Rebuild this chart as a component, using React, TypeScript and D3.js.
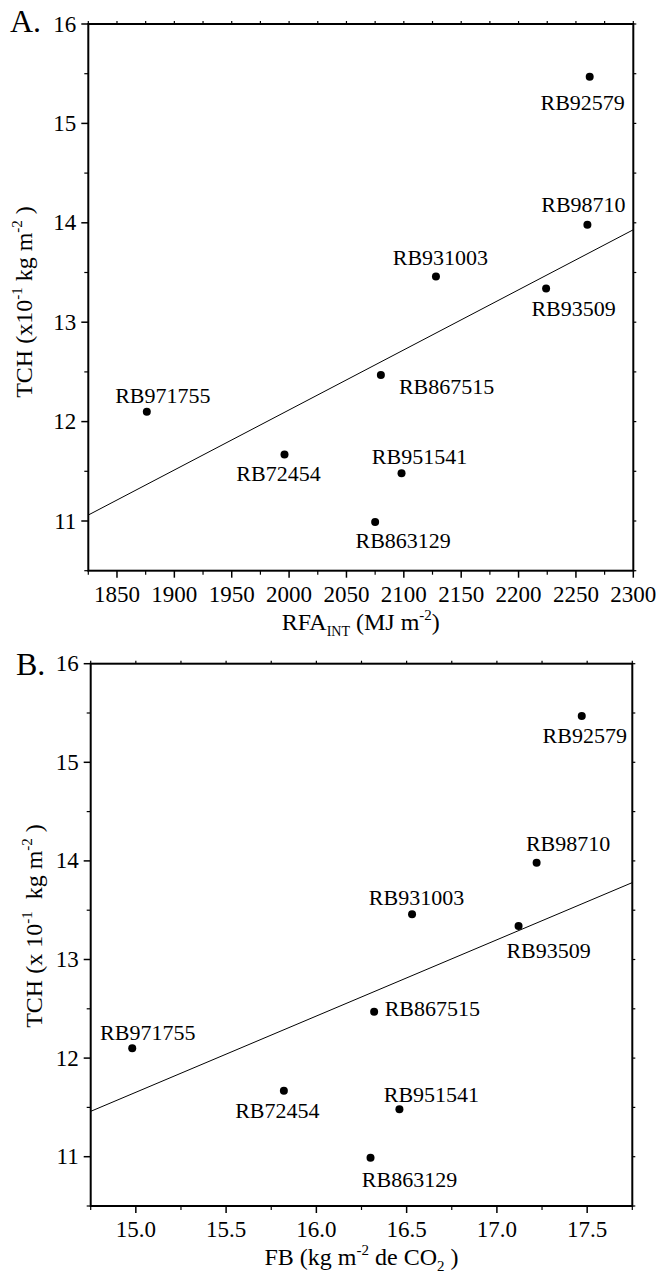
import React from "react";
import * as d3 from "d3";

// genotypes and their values
const genotypes = ["RB92579", "RB98710", "RB931003", "RB93509", "RB971755", "RB72454", "RB867515", "RB951541", "RB863129"];
const tch = [15.47, 13.98, 13.46, 13.34, 12.1, 11.67, 12.47, 11.48, 10.99];
const rfaInt = [2262, 2260, 2128, 2224, 1876, 1996, 2080, 2098, 2075];
const fb = [17.47, 17.22, 16.53, 17.12, 14.98, 15.82, 16.32, 16.46, 16.3];

// fitted lines (end points)
const fitAx = [1825, 2300];
const fitAy = [11.06, 13.93];
const fitBx = [14.75, 17.75];
const fitBy = [11.46, 13.78];

const yTicks = [11, 12, 13, 14, 15, 16];
const yMinor = [10.5, 11.5, 12.5, 13.5, 14.5, 15.5];
const xTicksA = [1850, 1900, 1950, 2000, 2050, 2100, 2150, 2200, 2250, 2300];
const xMinorA = [1825, 1875, 1925, 1975, 2025, 2075, 2125, 2175, 2225, 2275];
const xTicksB = [15.0, 15.5, 16.0, 16.5, 17.0, 17.5];
const xMinorB = [14.75, 15.25, 15.75, 16.25, 16.75, 17.25, 17.75];

// label placement relative to each point: [dx, dy, anchor]
const labelPosA: [number, number, string][] = [
  [-7, 33, "middle"], [-4, -12.5, "middle"], [4.5, -11.5, "middle"], [27.5, 27.5, "middle"],
  [16, -9, "middle"], [-6, 27, "middle"], [18, 19, "start"], [18, -9, "middle"], [28, 26.5, "middle"],
];
const labelPosB: [number, number, string][] = [
  [3, 27, "middle"], [31.5, -11.5, "middle"], [4.5, -9.5, "middle"], [30, 32, "middle"],
  [15.5, -8.5, "middle"], [-6.5, 27.5, "middle"], [10.5, 4.5, "start"], [32, -7.5, "middle"], [39, 29.5, "middle"],
];

const FONT = "'Liberation Serif', 'Times New Roman', serif";

type PanelProps = {
  letter: string;
  letterPos: [number, number];
  box: { left: number; right: number; top: number; bottom: number };
  xDomain: [number, number];
  xVals: number[];
  xTicks: number[];
  xMinor: number[];
  xFmt: (n: number) => string;
  fitX: number[];
  fitY: number[];
  labelPos: [number, number, string][];
  yTitle: React.ReactNode;
  yTitlePos: [number, number];
  xTitle: React.ReactNode;
};

const Panel = (p: PanelProps) => {
  const { left, right, top, bottom } = p.box;
  const x = d3.scaleLinear().domain(p.xDomain).range([left, right]);
  const y = d3.scaleLinear().domain([10.5, 16]).range([bottom, top]);
  const line = d3.line<number>()
    .x((_, i) => x(p.fitX[i]))
    .y((d) => y(d));
  const midX = (left + right) / 2;

  return (
    <g fontFamily={FONT} fill="#000">
      <text x={p.letterPos[0]} y={p.letterPos[1]} fontSize={32}>{p.letter}</text>

      {/* frame */}
      <rect x={left} y={top} width={right - left} height={bottom - top} fill="none" stroke="#000" strokeWidth={2} />

      {/* y ticks */}
      {yTicks.map((t) => (
        <g key={"y" + t}>
          <line x1={left - 7} x2={left} y1={y(t)} y2={y(t)} stroke="#000" strokeWidth={1.5} />
          <line x1={right} x2={right + 3} y1={y(t)} y2={y(t)} stroke="#000" strokeWidth={1.2} />
          <text x={left - 12} y={y(t)} fontSize={23} textAnchor="end" dominantBaseline="central">{t}</text>
        </g>
      ))}
      {yMinor.map((t) => (
        <g key={"ym" + t}>
          <line x1={left - 4} x2={left} y1={y(t)} y2={y(t)} stroke="#000" strokeWidth={1.2} />
          <line x1={right} x2={right + 3} y1={y(t)} y2={y(t)} stroke="#000" strokeWidth={1.2} />
        </g>
      ))}

      {/* x ticks */}
      {p.xTicks.map((t) => (
        <g key={"x" + t}>
          <line x1={x(t)} x2={x(t)} y1={bottom} y2={bottom + 7} stroke="#000" strokeWidth={1.5} />
          <line x1={x(t)} x2={x(t)} y1={top - 3} y2={top} stroke="#000" strokeWidth={1.2} />
          <text x={x(t)} y={bottom + 31} fontSize={23} textAnchor="middle">{p.xFmt(t)}</text>
        </g>
      ))}
      {p.xMinor.map((t) => (
        <g key={"xm" + t}>
          <line x1={x(t)} x2={x(t)} y1={bottom} y2={bottom + 4} stroke="#000" strokeWidth={1.2} />
          <line x1={x(t)} x2={x(t)} y1={top - 3} y2={top} stroke="#000" strokeWidth={1.2} />
        </g>
      ))}

      {/* fitted line */}
      <path d={line(p.fitY) || ""} fill="none" stroke="#000" strokeWidth={1} />

      {/* points and labels */}
      {genotypes.map((g, i) => {
        const cx = x(p.xVals[i]);
        const cy = y(tch[i]);
        const [dx, dy, anchor] = p.labelPos[i];
        return (
          <g key={g}>
            <circle cx={cx} cy={cy} r={4} fill="#000" />
            <text x={cx + dx} y={cy + dy} fontSize={22} textAnchor={anchor as any}>{g}</text>
          </g>
        );
      })}

      {/* axis titles */}
      <text transform={`translate(${p.yTitlePos[0]},${p.yTitlePos[1]}) rotate(-90)`} fontSize={24} textAnchor="middle">{p.yTitle}</text>
      <text x={midX} y={bottom + 59} fontSize={24} textAnchor="middle">{p.xTitle}</text>
    </g>
  );
};

const sup = (s: string) => <tspan fontSize={15} dy={-10}>{s}</tspan>;
const back = (s: string) => <tspan dy={10}>{s}</tspan>;

export default function App() {
  return (
    <svg width={660} height={1273} style={{ position: "absolute", left: 0, top: 0, background: "#fff" }}>
      <Panel
        letter="A."
        letterPos={[10, 32]}
        box={{ left: 88.3, right: 633.3, top: 24, bottom: 570.7 }}
        xDomain={[1825, 2300]}
        xVals={rfaInt}
        xTicks={xTicksA}
        xMinor={xMinorA}
        xFmt={d3.format("d")}
        fitX={fitAx}
        fitY={fitAy}
        labelPos={labelPosA}
        yTitlePos={[32, 302]}
        yTitle={<>TCH (x10{sup("-1")}{back(" kg m")}{sup("-2")}{back("\u00a0)")}</>}
        xTitle={<>RFA<tspan fontSize={14} dy={6}>INT</tspan><tspan dy={-6}> (MJ m</tspan>{sup("-2")}{back(")")}</>}
      />
      <Panel
        letter="B."
        letterPos={[16, 675]}
        box={{ left: 90.7, right: 632.3, top: 663.7, bottom: 1206 }}
        xDomain={[14.75, 17.75]}
        xVals={fb}
        xTicks={xTicksB}
        xMinor={xMinorB}
        xFmt={d3.format(".1f")}
        fitX={fitBx}
        fitY={fitBy}
        labelPos={labelPosB}
        yTitlePos={[42, 926]}
        yTitle={<>TCH (x 10{sup("-1")}{back("\u00a0 kg m")}{sup("-2")}{back("\u00a0)")}</>}
        xTitle={<>FB (kg m{sup("-2")}{back(" de CO")}<tspan fontSize={15} dy={6}>2</tspan><tspan dy={-6}>&nbsp;)</tspan></>}
      />
    </svg>
  );
}
